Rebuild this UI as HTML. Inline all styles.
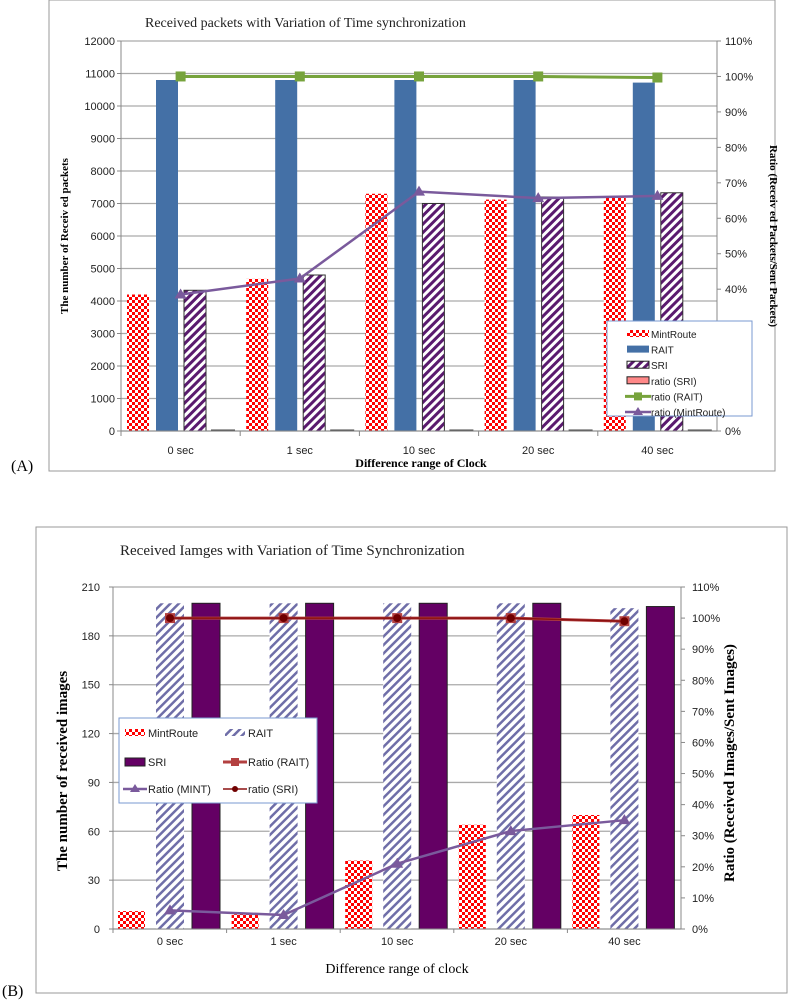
<!DOCTYPE html>
<html><head><meta charset="utf-8">
<style>
body{margin:0;background:#fff;width:788px;height:1000px;overflow:hidden}
svg{display:block;font-family:"Liberation Sans",sans-serif}
.ser{font-family:"Liberation Serif",serif}
</style></head>
<body>
<svg id="s" width="788" height="1000" xmlns="http://www.w3.org/2000/svg">
<defs>
<pattern id="chk" width="6" height="6" patternUnits="userSpaceOnUse"><rect width="6" height="6" fill="#fff"/><rect width="3" height="3" fill="#f00"/><rect x="3" y="3" width="3" height="3" fill="#f00"/></pattern>
<pattern id="hA" width="6" height="6" patternUnits="userSpaceOnUse" patternTransform="rotate(45)"><rect width="6" height="6" fill="#fff"/><rect width="3" height="6" fill="#5a1a6e"/></pattern>
<pattern id="hB" width="6" height="6" patternUnits="userSpaceOnUse" patternTransform="rotate(45)"><rect width="6" height="6" fill="#fff"/><rect width="2.5" height="6" fill="#6f6ea8"/></pattern>
</defs>
<rect x="49" y="0" width="726" height="471" fill="none" stroke="#999"/>
<rect x="36" y="527" width="751" height="466" fill="none" stroke="#999"/>
<g id="A"></g><g id="B"></g>
</svg>
<script>
const NS="http://www.w3.org/2000/svg";
function mk(p,t,a,txt){const e=document.createElementNS(NS,t);for(const k in a)e.setAttribute(k,a[k]);if(txt!=null)e.textContent=txt;p.appendChild(e);return e;}
const categories=["0 sec","1 sec","10 sec","20 sec","40 sec"];
// Chart A data
const aMint=[4200,4680,7300,7120,7180];
const aRait=[10800,10800,10800,10800,10720];
const aSri=[4330,4800,7000,7200,7330];
const aRatioSri=[0,0,0,0,0];
const aRatioRait=[100,100,100,100,99.7];
const aRatioMint=[38.5,43,67.5,65.7,66.3];
const aLeftTicks=[0,1000,2000,3000,4000,5000,6000,7000,8000,9000,10000,11000,12000];
const aRightTicks=[0,10,20,30,40,50,60,70,80,90,100,110];
// Chart B data
const bMint=[11,9,42,64,70];
const bRait=[200,200,200,200,197];
const bSri=[200,200,200,200,198];
const bRatioRait=[100,100,100,100,99];
const bRatioSri=[100,100,100,100,99];
const bRatioMint=[6,4.5,21,31.5,35];
const bLeftTicks=[0,30,60,90,120,150,180,210];
const bRightTicks=[0,10,20,30,40,50,60,70,80,90,100,110];

// ---------- Chart A ----------
(function(){
const g=document.getElementById('A');
const L=121,R=717,T=41,B=431;const cw=(R-L)/5;
const y=v=>B-(v/12000)*(B-T);const yr=v=>B-(v/110)*(B-T);
const cx=i=>L+cw*i;
aLeftTicks.forEach(v=>{mk(g,'line',{x1:L,x2:R,y1:y(v),y2:y(v),stroke:'#aaa','stroke-width':1.3});
 const t=mk(g,'text',{x:L-6,y:y(v)+4,'font-size':11,'text-anchor':'end',fill:'#222'},v);
 mk(g,'line',{x1:L-4,x2:L,y1:y(v),y2:y(v),stroke:'#888'});});
aRightTicks.forEach(v=>{const t=mk(g,'text',{x:R+8,y:yr(v)+4,'font-size':11,fill:'#222'},v+'%');
 mk(g,'line',{x1:R,x2:R+4,y1:yr(v),y2:yr(v),stroke:'#888'});});
mk(g,'line',{x1:L,x2:L,y1:T,y2:B,stroke:'#888'});mk(g,'line',{x1:R,x2:R,y1:T,y2:B,stroke:'#888'});
categories.forEach((c,i)=>{
 let b;
 b=mk(g,'rect',{x:cx(i)+6,y:y(aMint[i]),width:22,height:B-y(aMint[i]),fill:'url(#chk)'});
 b=mk(g,'rect',{x:cx(i)+35,y:y(aRait[i]),width:22,height:B-y(aRait[i]),fill:'#4470a6'});
 b=mk(g,'rect',{x:cx(i)+63,y:y(aSri[i]),width:22,height:B-y(aSri[i]),fill:'url(#hA)',stroke:'#333','stroke-width':1});
 b=mk(g,'rect',{x:cx(i)+90,y:yr(aRatioSri[i])-1.5,width:24,height:1.5+(B-yr(aRatioSri[i])),fill:'#444'});
 const t=mk(g,'text',{x:cx(i)+cw/2,y:454,'font-size':11,'text-anchor':'middle',fill:'#222'},c);
 mk(g,'line',{x1:cx(i),x2:cx(i),y1:B,y2:B+5,stroke:'#888'});
});
mk(g,'line',{x1:L,x2:R,y1:B,y2:B,stroke:'#888'});
const px=i=>cx(i)+cw/2;
let p=mk(g,'polyline',{points:aRatioRait.map((v,i)=>px(i)+','+yr(v)).join(' '),fill:'none',stroke:'#77a33c','stroke-width':3});
aRatioRait.forEach((v,i)=>{const m=mk(g,'rect',{x:px(i)-5,y:yr(v)-5,width:10,height:10,fill:'#77a33c'});});
p=mk(g,'polyline',{points:aRatioMint.map((v,i)=>px(i)+','+yr(v)).join(' '),fill:'none',stroke:'#7a5a9c','stroke-width':2.5});
aRatioMint.forEach((v,i)=>{const Y=yr(v),X=px(i);const m=mk(g,'polygon',{points:`${X},${Y-6} ${X-6},${Y+4} ${X+6},${Y+4}`,fill:'#7a5a9c'});});
let t=mk(g,'text',{x:145,y:27,'font-size':14,class:'ser',fill:'#222'},'Received packets with Variation of Time  synchronization');
t=mk(g,'text',{x:0,y:0,'font-size':11,'font-weight':'bold',class:'ser','text-anchor':'middle',transform:'translate(68,236) rotate(-90)'},'The number of Receiv ed packets');
t=mk(g,'text',{x:0,y:0,'font-size':11,'font-weight':'bold',class:'ser','text-anchor':'middle',transform:'translate(770,236) rotate(90)'},'Ratio (Receiv ed Packets/Sent Packets)');
t=mk(g,'text',{x:421,y:467,'font-size':12,'font-weight':'bold',class:'ser','text-anchor':'middle'},'Difference range of Clock');
t=mk(g,'text',{x:11,y:471,'font-size':16,class:'ser'},'(A)');
// legend
const lg=mk(g,'g',{});
mk(lg,'rect',{x:607,y:321,width:145,height:95,fill:'#fff',stroke:'#7a9ad0'});
const items=[['MintRoute','chk'],['RAIT','rait'],['SRI','hatch'],['ratio (SRI)','pink'],['ratio (RAIT)','lg'],['ratio (MintRoute)','lp']];
items.forEach((it,k)=>{const Y=334+k*15.6;
 if(it[1]==='chk')mk(lg,'rect',{x:627,y:Y-4,width:22,height:7,fill:'url(#chk)'});
 if(it[1]==='rait')mk(lg,'rect',{x:627,y:Y-4,width:22,height:7,fill:'#4470a6'});
 if(it[1]==='hatch')mk(lg,'rect',{x:627,y:Y-4,width:22,height:7,fill:'url(#hA)',stroke:'#222'});
 if(it[1]==='pink')mk(lg,'rect',{x:627,y:Y-4,width:22,height:7,fill:'#f88',stroke:'#222'});
 if(it[1]==='lg'){mk(lg,'line',{x1:625,x2:651,y1:Y,y2:Y,stroke:'#77a33c','stroke-width':3});mk(lg,'rect',{x:634,y:Y-4,width:8,height:8,fill:'#77a33c'});}
 if(it[1]==='lp'){mk(lg,'line',{x1:625,x2:651,y1:Y,y2:Y,stroke:'#7a5a9c','stroke-width':2.5});mk(lg,'polygon',{points:`638,${Y-5} 633,${Y+3} 643,${Y+3}`,fill:'#7a5a9c'});}
 const e=mk(lg,'text',{x:651,y:Y+4,'font-size':10,fill:'#222'},it[0]);
});
})();

// ---------- Chart B ----------
(function(){
const g=document.getElementById('B');
const L=113,R=681,T=587,B=929;const cw=(R-L)/5;
const y=v=>B-(v/210)*(B-T);const yr=v=>B-(v/110)*(B-T);
const cx=i=>L+cw*i;
bLeftTicks.forEach(v=>{mk(g,'line',{x1:L,x2:R,y1:y(v),y2:y(v),stroke:'#aaa','stroke-width':1.3});
 const t=mk(g,'text',{x:L-13,y:y(v)+4,'font-size':11,'text-anchor':'end',fill:'#222'},v);
 mk(g,'line',{x1:L-4,x2:L,y1:y(v),y2:y(v),stroke:'#888'});});
bRightTicks.forEach(v=>{const t=mk(g,'text',{x:R+11,y:yr(v)+4,'font-size':11,fill:'#222'},v+'%');
 mk(g,'line',{x1:R,x2:R+4,y1:yr(v),y2:yr(v),stroke:'#888'});});
mk(g,'line',{x1:L,x2:L,y1:T,y2:B,stroke:'#888'});mk(g,'line',{x1:R,x2:R,y1:T,y2:B,stroke:'#888'});
categories.forEach((c,i)=>{
 let b;
 b=mk(g,'rect',{x:cx(i)+5,y:y(bMint[i]),width:27,height:B-y(bMint[i]),fill:'url(#chk)'});
 b=mk(g,'rect',{x:cx(i)+43,y:y(bRait[i]),width:28,height:B-y(bRait[i]),fill:'url(#hB)'});
 b=mk(g,'rect',{x:cx(i)+79,y:y(bSri[i]),width:28,height:B-y(bSri[i]),fill:'#640064',stroke:'#222'});
 const t=mk(g,'text',{x:cx(i)+57,y:945,'font-size':11,'text-anchor':'middle',fill:'#222'},c);
 mk(g,'line',{x1:cx(i),x2:cx(i),y1:B,y2:B+4,stroke:'#888'});
});
mk(g,'line',{x1:L,x2:R,y1:B,y2:B,stroke:'#888'});
const px=i=>cx(i)+57;
let p=mk(g,'polyline',{points:bRatioRait.map((v,i)=>px(i)+','+yr(v)).join(' '),fill:'none',stroke:'#b34040','stroke-width':3});
bRatioRait.forEach((v,i)=>{const m=mk(g,'rect',{x:px(i)-5,y:yr(v)-5,width:10,height:10,fill:'#b34040'});});
p=mk(g,'polyline',{points:bRatioSri.map((v,i)=>px(i)+','+yr(v)).join(' '),fill:'none',stroke:'#8b1010','stroke-width':1.5});
bRatioSri.forEach((v,i)=>{const m=mk(g,'circle',{cx:px(i),cy:yr(v),r:4,fill:'#700000'});});
p=mk(g,'polyline',{points:bRatioMint.map((v,i)=>px(i)+','+yr(v)).join(' '),fill:'none',stroke:'#7a5a9c','stroke-width':2.5});
bRatioMint.forEach((v,i)=>{const Y=yr(v),X=px(i);const m=mk(g,'polygon',{points:`${X},${Y-6} ${X-6},${Y+4} ${X+6},${Y+4}`,fill:'#7a5a9c'});});
let t=mk(g,'text',{x:120,y:555,'font-size':15,class:'ser',fill:'#222'},'Received Iamges with Variation of Time Synchronization');
t=mk(g,'text',{x:0,y:0,'font-size':15,'font-weight':'bold',class:'ser','text-anchor':'middle',transform:'translate(67,771) rotate(-90)'},'The number of received images');
t=mk(g,'text',{x:0,y:0,'font-size':15,'font-weight':'bold',class:'ser','text-anchor':'middle',transform:'translate(734,763) rotate(-90)'},'Ratio (Received Images/Sent Images)');
t=mk(g,'text',{x:397,y:973,'font-size':14,class:'ser','text-anchor':'middle'},'Difference range of clock');
t=mk(g,'text',{x:2,y:996,'font-size':16,class:'ser'},'(B)');
const lg=mk(g,'g',{});
mk(lg,'rect',{x:119,y:718,width:198,height:85,fill:'#fff',stroke:'#7a9ad0'});
const items=[['MintRoute','chk',125,733],['RAIT','hatch',225,733],['SRI','sri',125,762],['Ratio (RAIT)','rr',225,762],['Ratio (MINT)','rm',125,789],['ratio (SRI)','rs',225,789]];
items.forEach(it=>{const X=it[2],Y=it[3];
 if(it[1]==='chk')mk(lg,'rect',{x:X,y:Y-4,width:20,height:7,fill:'url(#chk)'});
 if(it[1]==='hatch')mk(lg,'rect',{x:X,y:Y-4,width:20,height:7,fill:'url(#hB)'});
 if(it[1]==='sri')mk(lg,'rect',{x:X,y:Y-4,width:20,height:8,fill:'#640064',stroke:'#222'});
 if(it[1]==='rr'){mk(lg,'line',{x1:X-2,x2:X+22,y1:Y,y2:Y,stroke:'#b34040','stroke-width':3});mk(lg,'rect',{x:X+6,y:Y-4,width:8,height:8,fill:'#b34040'});}
 if(it[1]==='rm'){mk(lg,'line',{x1:X-2,x2:X+22,y1:Y,y2:Y,stroke:'#7a5a9c','stroke-width':2.5});mk(lg,'polygon',{points:`${X+10},${Y-5} ${X+5},${Y+3} ${X+15},${Y+3}`,fill:'#7a5a9c'});}
 if(it[1]==='rs'){mk(lg,'line',{x1:X-2,x2:X+22,y1:Y,y2:Y,stroke:'#8b1010','stroke-width':1.5});mk(lg,'circle',{cx:X+10,cy:Y,r:3,fill:'#700000'});}
 const e=mk(lg,'text',{x:X+23,y:Y+4,'font-size':11,fill:'#222'},it[0]);
});
})();
</script>
</body></html>
